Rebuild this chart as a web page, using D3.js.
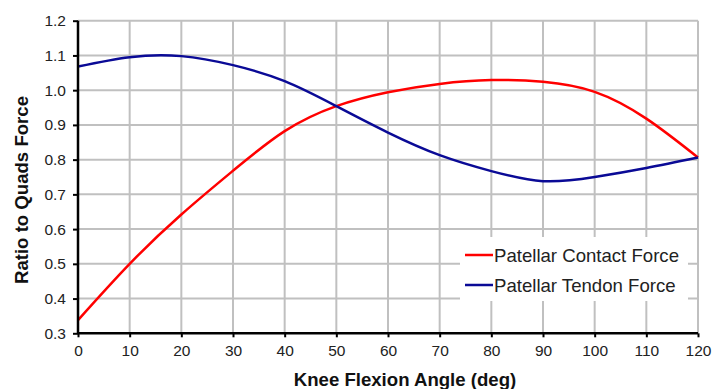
<!DOCTYPE html>
<html>
<head>
<meta charset="utf-8">
<script src="https://cdn.jsdelivr.net/npm/d3@7"></script>
<style>
  html, body { margin: 0; padding: 0; background: #fff; }
  svg { display: block; font-family: "Liberation Sans", Arial, sans-serif; }
</style>
</head>
<body>
<svg id="chart" width="712" height="389"></svg>
<script>
const angles = [0, 10, 20, 30, 40, 50, 60, 70, 80, 90, 100, 110, 120];
const contactForce = [0.338, 0.500, 0.642, 0.768, 0.882, 0.954, 0.994, 1.018, 1.029, 1.024, 0.995, 0.918, 0.806];
const tendonForce = [1.068, 1.095, 1.098, 1.072, 1.026, 0.954, 0.878, 0.813, 0.767, 0.738, 0.750, 0.776, 0.806];
const seriesNames = ["Patellar Contact Force", "Patellar Tendon Force"];
const seriesColors = ["#ff0000", "#0a0a96"];
const xTicks = [0, 10, 20, 30, 40, 50, 60, 70, 80, 90, 100, 110, 120];
const yTicks = [0.3, 0.4, 0.5, 0.6, 0.7, 0.8, 0.9, 1.0, 1.1, 1.2];

const svg = d3.select("#chart");
const pLeft = 78, pRight = 698, pTop = 20.7, pBottom = 333.3;

const x = d3.scaleLinear().domain([0, 120]).range([pLeft, pRight]);
const y = d3.scaleLinear().domain([0.3, 1.2]).range([pBottom, pTop]);

// grid
const grid = svg.append("g");
grid.selectAll("line.v").data(xTicks.filter(d => d > 0)).join("line")
  .attr("class", "v")
  .attr("x1", d => x(d)).attr("x2", d => x(d))
  .attr("y1", pTop).attr("y2", pBottom)
  .attr("stroke", "#c0c0c0").attr("stroke-width", 2);
grid.selectAll("line.h").data(yTicks.filter(d => d > 0.3)).join("line")
  .attr("class", "h")
  .attr("x1", pLeft).attr("x2", pRight)
  .attr("y1", d => y(d)).attr("y2", d => y(d))
  .attr("stroke", "#c0c0c0").attr("stroke-width", 2);

// lines
const data = [contactForce, tendonForce];
const line = d3.line()
  .x((d, i) => x(angles[i]))
  .y(d => y(d))
  .curve(d3.curveNatural);
svg.append("g").selectAll("path").data(data).join("path")
  .attr("d", d => line(d))
  .attr("fill", "none")
  .attr("stroke", (d, i) => seriesColors[i])
  .attr("stroke-width", 2.5);

// axes
const xAxis = svg.append("g").attr("transform", `translate(0,${pBottom})`)
  .call(d3.axisBottom(x).tickValues(xTicks).tickSize(4).tickPadding(8).tickFormat(d3.format("d")));
const yAxis = svg.append("g").attr("transform", `translate(${pLeft},0)`)
  .call(d3.axisLeft(y).tickValues(yTicks).tickSize(5).tickPadding(7).tickFormat(d3.format(".1f")));
[xAxis, yAxis].forEach(a => {
  a.select(".domain").attr("stroke", "#000").attr("stroke-width", 2.5);
  a.selectAll(".tick line").attr("stroke", "#000").attr("stroke-width", 2);
  a.selectAll(".tick text").attr("fill", "#222").style("font-size", "15.5px")
    .style("font-family", "'Liberation Sans', Arial, sans-serif");
});
xAxis.select(".domain").attr("d", `M${pLeft},0H${pRight}`);
yAxis.select(".domain").attr("d", `M0,${pBottom}V${pTop}`);

// axis titles
svg.append("text")
  .attr("x", 405).attr("y", 386)
  .attr("text-anchor", "middle")
  .style("font-size", "18.6px").style("font-weight", "bold").attr("fill", "#111")
  .text("Knee Flexion Angle (deg)");
svg.append("text")
  .attr("transform", "translate(28,190) rotate(-90)")
  .attr("text-anchor", "middle")
  .style("font-size", "18.6px").style("font-weight", "bold").attr("fill", "#111")
  .text("Ratio to Quads Force");

// legend
const lg = svg.append("g");
lg.append("rect").attr("x", 460).attr("y", 237).attr("width", 228).attr("height", 64).attr("fill", "#fff");
seriesNames.forEach((name, i) => {
  const cy = 255 + i * 30;
  lg.append("line").attr("x1", 465).attr("x2", 493).attr("y1", cy).attr("y2", cy)
    .attr("stroke", seriesColors[i]).attr("stroke-width", 2.5);
  lg.append("text").attr("x", 494).attr("y", cy + 6.5)
    .style("font-size", "18.6px").attr("fill", "#222").text(name);
});
</script>
</body>
</html>
